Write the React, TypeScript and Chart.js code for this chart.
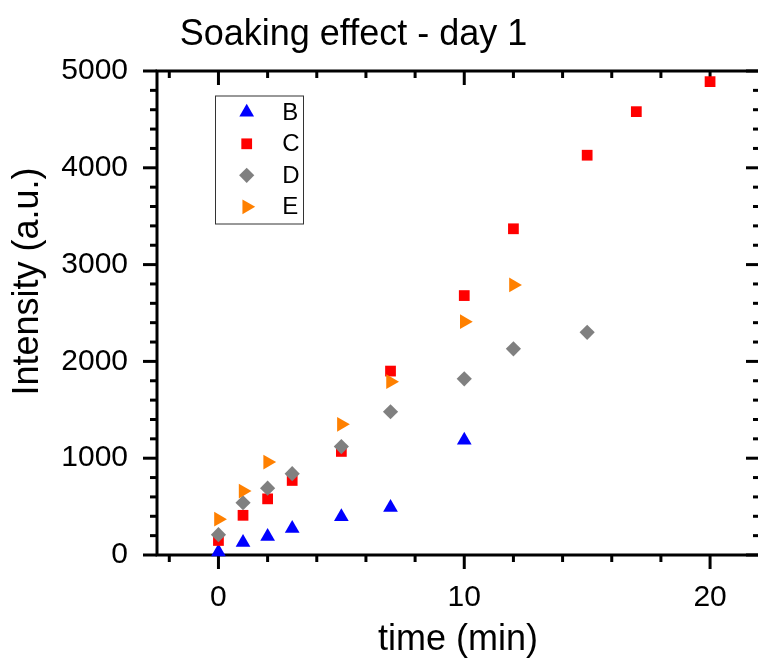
import React, { useEffect, useRef } from "react";
import { Chart, registerables } from "chart.js";
import { drawPoint } from "chart.js/helpers";

Chart.register(...registerables);

// ---- data ----
const TIMES_B = [0, 1, 2, 3, 5, 7, 10];
const VALUES_B = [30, 130, 190, 275, 395, 490, 1185];
const TIMES_C = [0, 1, 2, 3, 5, 7, 10, 12, 15, 17, 20];
const VALUES_C = [150, 410, 580, 770, 1070, 1900, 2680, 3370, 4130, 4580, 4890];
const TIMES_D = [0, 1, 2, 3, 5, 7, 10, 12, 15];
const VALUES_D = [210, 540, 690, 840, 1120, 1480, 1820, 2130, 2300];
const TIMES_E = [0, 1, 2, 5, 7, 10, 12];
const VALUES_E = [370, 660, 960, 1350, 1790, 2410, 2790];
const SERIES_LABELS = ["B", "C", "D", "E"];

const X_MAJOR_TICKS = [0, 10, 20];
const X_MINOR_TICKS = [-2, 2, 4, 6, 8, 12, 14, 16, 18];
const Y_MAJOR_TICKS = [0, 1000, 2000, 3000, 4000, 5000];
const Y_MINOR_STEP = 200;

const TITLE = "Soaking effect - day 1";
const X_TITLE = "time (min)";
const Y_TITLE = "Intensity (a.u.)";

const FONT = "'Liberation Sans', Arial, Helvetica, sans-serif";

export default function App() {
  const ref = useRef<HTMLCanvasElement>(null);

  useEffect(() => {
    const canvas = ref.current!;
    const mk = (xs: number[], ys: number[]) => xs.map((x, i) => ({ x, y: ys[i] }));

    const styles = [
      { color: "#0000FF", pointStyle: "triangle", radius: 8.5, rotation: 0 },
      { color: "#FF0000", pointStyle: "rect", radius: 7.6, rotation: 0 },
      { color: "#808080", pointStyle: "rectRot", radius: 7.6, rotation: 0 },
      { color: "#FF8000", pointStyle: "triangle", radius: 8.5, rotation: 90 },
    ];
    const series = [
      mk(TIMES_B, VALUES_B),
      mk(TIMES_C, VALUES_C),
      mk(TIMES_D, VALUES_D),
      mk(TIMES_E, VALUES_E),
    ];

    const datasets = series.map((data, i) => ({
      label: SERIES_LABELS[i],
      data,
      showLine: false,
      pointStyle: styles[i].pointStyle,
      pointRadius: styles[i].radius,
      pointHoverRadius: styles[i].radius,
      pointRotation: styles[i].rotation,
      pointBackgroundColor: styles[i].color,
      pointBorderColor: styles[i].color,
      pointBorderWidth: 0,
      backgroundColor: styles[i].color,
      borderColor: styles[i].color,
      clip: false as any,
      order: 4 - i,
    }));

    const framePlugin = {
      id: "frame",
      beforeDatasetsDraw(chart: any) {
        const { ctx, chartArea: a } = chart;
        const xs = chart.scales.x;
        const ys = chart.scales.y;
        ctx.save();
        ctx.strokeStyle = "#000";
        ctx.lineWidth = 3;
        ctx.lineCap = "butt";
        const seg = (x1: number, y1: number, x2: number, y2: number) => {
          ctx.beginPath();
          ctx.moveTo(x1, y1);
          ctx.lineTo(x2, y2);
          ctx.stroke();
        };
        const xTicks = [...X_MAJOR_TICKS.map((v) => [v, 14]), ...X_MINOR_TICKS.map((v) => [v, 7])];
        xTicks.forEach(([v, len]) => {
          const px = xs.getPixelForValue(v);
          seg(px, a.bottom, px, a.bottom + len);
          seg(px, a.top, px, a.top + len);
        });
        const rightX = a.right + 2;
        const yMax = Y_MAJOR_TICKS[Y_MAJOR_TICKS.length - 1];
        for (let v = 0; v <= yMax; v += Y_MINOR_STEP) {
          const len = Y_MAJOR_TICKS.includes(v) ? 14 : 7;
          const py = ys.getPixelForValue(v);
          seg(a.left, py, a.left - len, py);
          seg(rightX, py, rightX - len, py);
        }
        // frame: left, top, bottom (right edge lies outside the picture)
        ctx.beginPath();
        ctx.moveTo(a.right + 2, a.top);
        ctx.lineTo(a.left, a.top);
        ctx.lineTo(a.left, a.bottom);
        ctx.lineTo(a.right + 2, a.bottom);
        ctx.stroke();
        ctx.restore();
      },
      afterDraw(chart: any) {
        const { ctx } = chart;
        ctx.save();
        ctx.fillStyle = "#000";
        // title
        ctx.font = `36px ${FONT}`;
        ctx.textAlign = "center";
        ctx.textBaseline = "alphabetic";
        ctx.fillText(TITLE, 353.5, 45);
        // x title
        ctx.fillText(X_TITLE, 458, 650);
        // y title
        ctx.save();
        ctx.translate(38, 281.5);
        ctx.rotate(-Math.PI / 2);
        ctx.fillText(Y_TITLE, 0, 0);
        ctx.restore();
        // legend
        const bx = 215.5, by = 96, bw = 88, bh = 128;
        ctx.fillStyle = "#fff";
        ctx.fillRect(bx, by, bw, bh);
        ctx.strokeStyle = "#333";
        ctx.lineWidth = 1;
        ctx.strokeRect(bx, by, bw, bh);
        ctx.font = `24px ${FONT}`;
        ctx.textAlign = "left";
        ctx.textBaseline = "middle";
        chart.data.datasets.forEach((ds: any, i: number) => {
          const cy = 112.3 + i * 31.5;
          ctx.fillStyle = ds.pointBackgroundColor;
          ctx.strokeStyle = ds.pointBorderColor;
          drawPoint(ctx, {
            pointStyle: ds.pointStyle,
            radius: ds.pointRadius,
            rotation: ds.pointRotation,
            borderWidth: 0,
          } as any, 246.7, cy);
          ctx.fillStyle = "#000";
          ctx.fillText(ds.label, 282.3, cy + 1);
        });
        ctx.restore();
      },
    };

    const chart = new Chart(canvas, {
      type: "scatter",
      data: { datasets: datasets as any },
      options: {
        animation: false,
        responsive: false,
        devicePixelRatio: 1,
        layout: { autoPadding: false, padding: { top: 71, right: 0, left: 0, bottom: 0 } },
        plugins: { legend: { display: false }, tooltip: { enabled: false }, title: { display: false } },
        events: [],
        scales: {
          x: {
            type: "linear",
            min: -2.5,
            max: 21.95,
            afterBuildTicks: (s: any) => {
              s.ticks = X_MAJOR_TICKS.map((v) => ({ value: v }));
            },
            afterFit: (s: any) => {
              s.height = 103;
              s.paddingLeft = 0;
              s.paddingRight = 0;
            },
            grid: { display: false, drawTicks: false },
            border: { display: false },
            ticks: {
              autoSkip: false,
              maxRotation: 0,
              padding: 25,
              color: "#000",
              font: { family: FONT, size: 30 },
              callback: (v: any) => String(v),
            },
          },
          y: {
            type: "linear",
            min: 0,
            max: 5000,
            afterBuildTicks: (s: any) => {
              s.ticks = Y_MAJOR_TICKS.map((v) => ({ value: v }));
            },
            afterFit: (s: any) => {
              s.width = 157;
              s.paddingTop = 0;
              s.paddingBottom = 0;
            },
            grid: { display: false, drawTicks: false },
            border: { display: false },
            ticks: {
              autoSkip: false,
              padding: 29,
              color: "#000",
              font: { family: FONT, size: 30 },
              callback: (v: any) => String(v),
            },
          },
        },
      },
      plugins: [framePlugin],
    });

    return () => chart.destroy();
  }, []);

  return (
    <div style={{ position: "fixed", left: 0, top: 0, width: 758, height: 658, overflow: "hidden" }}>
      <canvas ref={ref} width={758} height={658} style={{ display: "block", width: 758, height: 658 }} />
    </div>
  );
}
